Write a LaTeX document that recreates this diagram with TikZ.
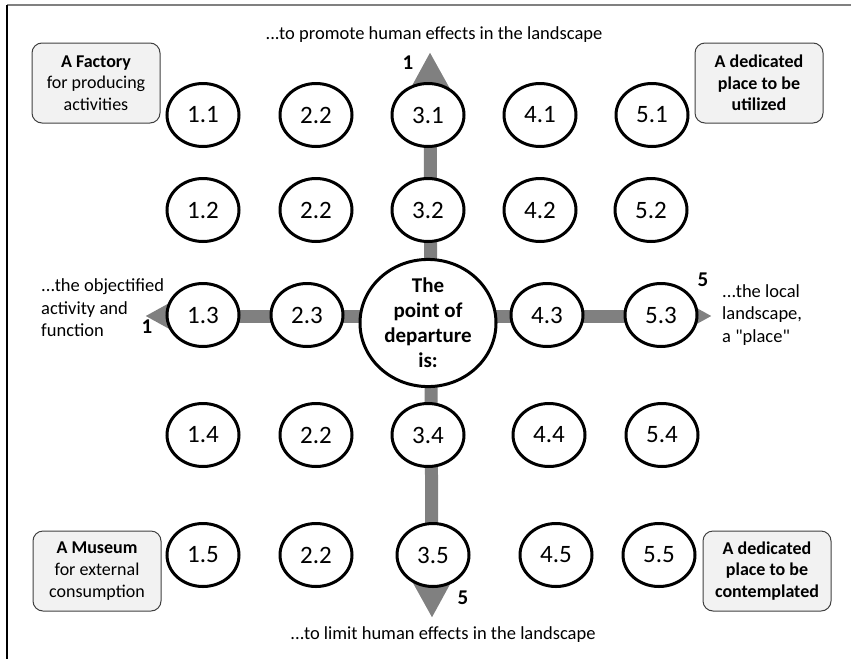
\documentclass[tikz,border=0pt]{standalone}
\usepackage{fontspec}
\setmainfont{Carlito}[Ligatures=TeXOff]
\usetikzlibrary{arrows.meta,shapes.geometric}

\begin{document}
\begin{tikzpicture}[x=1pt,y=-1pt,
	item/.style={ellipse, draw, line width=3pt, fill=white, minimum width=72pt,
		minimum height=63pt, inner sep=0pt, font=\fontsize{25}{30}\selectfont},
	hub/.style={ellipse, draw, line width=3pt, fill=white, minimum width=136pt,
		minimum height=127pt, inner sep=0pt, align=center,
		font=\fontsize{21}{25}\selectfont\bfseries},
	sidebox/.style={draw=black!75, line width=1pt, rounded corners=10pt, fill=black!5,
		minimum width=128pt, minimum height=80pt, inner sep=2pt, align=center,
		font=\fontsize{18}{21.7}\selectfont},
	note/.style={align=left, inner sep=0pt, font=\fontsize{18.5}{22.5}\selectfont},
	num/.style={inner sep=0pt, font=\fontsize{21}{25}\selectfont\bfseries},
	axis/.style={line width=13pt, draw=black!50, >={Triangle[length=38pt, width=38pt]}, <->},
]

% frame %{{{2

	\useasboundingbox (0,0) rectangle (851,659);
	\draw[black!50, line width=2pt] (7,5) -- (851,5);
	\draw[line width=1.5pt] (7,5) -- (7,659);

% axis ends %{{{2

	\coordinate (top) at (430,52);
	\coordinate (bottom) at (432,618);
	\coordinate (left) at (145,316);
	\coordinate (right) at (712,316);

% axes %{{{2

	\draw[axis] (top) -- (bottom);
	\draw[axis] (left) -- (right);

% centre %{{{2

	\node[hub] (depart) at (428,323) {The\\point of\\departure\\is:};

% grid of items %{{{2

	\foreach \lab/\x/\y/\nm in {
		1.1/203/115/c11, 2.2/316/115/c21, 3.1/428/115/c31, 4.1/540/115/c41, 5.1/652/115/c51,
		1.2/203/210/c12, 2.2/316/210/c22, 3.2/428/210/c32, 4.2/540/210/c42, 5.2/651/210/c52,
		1.3/203/315/c13, 2.3/307/315/c23, 4.3/547/315/c43, 5.3/661/315/c53,
		1.4/203/435/c14, 2.2/316/435/c24, 3.4/428/435/c34, 4.4/549/435/c44, 5.4/662/435/c54,
		1.5/203/555/c15, 2.2/316/555/c25, 3.5/433/555/c35, 4.5/556/555/c45, 5.5/659/555/c55} {
		\node[item] (\nm) at (\x,\y) {\lab};
	}

% corner boxes %{{{2

	\node[sidebox] (factory) at (96,83) {\textbf{A Factory}\\for producing\\activities};
	\node[sidebox, font=\fontsize{18}{21.7}\selectfont\bfseries] (utilized) at (759,83)
		{A dedicated\\place to be\\utilized};
	\node[sidebox] (museum) at (97,571) {\textbf{A Museum}\\for external\\consumption};
	\node[sidebox, font=\fontsize{18}{21.7}\selectfont\bfseries] (contemplated) at (767,571)
		{A dedicated\\place to be\\contemplated};

% axis notes %{{{2

	\node[note, align=center] (topnote) at (434,35) {...to promote human effects in the landscape};
	\node[note, align=center] (bottomnote) at (443,635) {...to limit human effects in the landscape};
	\node[note, anchor=west] (leftnote) at (41,308) {...the objectified\\activity and\\function};
	\node[note, anchor=west] (rightnote) at (722,315) {...the local\\landscape,\\a "place"};

% axis numbers %{{{2

	\node[num] (topnum) at (408,63) {1};
	\node[num] (bottomnum) at (463,598) {5};
	\node[num] (leftnum) at (147,327) {1};
	\node[num] (rightnum) at (703,280) {5};

% closing %{{{2

\end{tikzpicture}
\end{document}
